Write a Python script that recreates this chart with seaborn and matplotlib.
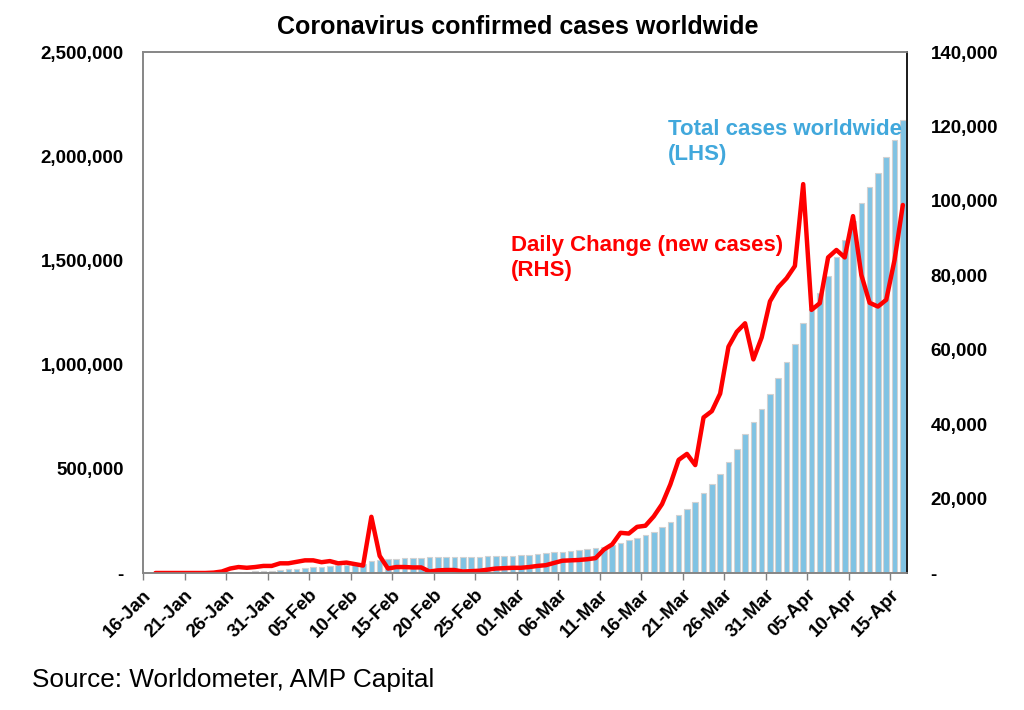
import numpy as np
import pandas as pd
import matplotlib
matplotlib.use('Agg')
import matplotlib.pyplot as plt
import seaborn as sns
from matplotlib.ticker import FuncFormatter, MultipleLocator, FixedLocator, NullFormatter

# daily categories, 16-Jan to 16-Apr 2020
dates = pd.date_range('2020-01-16', '2020-04-16', freq='D')

# total confirmed cases worldwide (LHS)
total_cases = [
    45, 62, 121, 198, 291, 440, 571, 830, 1287, 1975, 2744, 4515,
    5974, 7711, 9692, 11791, 14380, 17205, 20438, 24324, 28018, 31161,
    34546, 37198, 40171, 42638, 44653, 59000, 63850, 66492, 68500, 70548,
    72436, 74185, 74576, 75303, 76200, 76767, 77245, 77751, 78485, 79300,
    80400, 81700, 83200, 85000, 87000, 89600, 94500, 98500, 102000, 106000,
    110000, 114000, 119000, 127000, 135000, 143000, 157000, 170000, 184000,
    199000, 221000, 246000, 277000, 308000, 340000, 383000, 425000, 476000,
    535000, 597000, 665000, 723000, 788000, 860000, 935000, 1014000,
    1099000, 1201000, 1268000, 1344000, 1427000, 1514000, 1598000, 1690000,
    1774000, 1851000, 1921000, 1994000, 2078000, 2173000,
]

# daily change in new cases (RHS); no value on the first day
daily_change = [
    np.nan, 0, 0, 0, 0, 0, 0, 0, 100, 400, 1200, 1600,
    1400, 1600, 1900, 1900, 2600, 2600, 3000, 3400, 3400, 2900,
    3200, 2600, 2800, 2400, 2000, 15100, 4600, 1200, 1600, 1600,
    1500, 1500, 400, 700, 800, 800, 400, 500, 600, 900,
    1200, 1300, 1400, 1400, 1600, 1900, 2100, 2700, 3300, 3400,
    3500, 3700, 4000, 6300, 7700, 10800, 10600, 12400, 12700,
    15200, 18500, 23800, 30400, 32000, 29000, 41800, 43500, 48200,
    60800, 64800, 67100, 57400, 63300, 73000, 76800, 79200,
    82500, 104500, 70700, 72500, 84800, 86800, 84800, 95900,
    80100, 72600, 71600, 73400, 84100, 98900,
]

tick_labels = ['16-Jan', '21-Jan', '26-Jan', '31-Jan', '05-Feb', '10-Feb',
               '15-Feb', '20-Feb', '25-Feb', '01-Mar', '06-Mar', '11-Mar',
               '16-Mar', '21-Mar', '26-Mar', '31-Mar', '05-Apr', '10-Apr',
               '15-Apr']

df = pd.DataFrame({'day': np.arange(len(dates)), 'date': dates,
                   'total': total_cases, 'daily': daily_change})

sns.set_style('white')
plt.rcParams['font.family'] = ['Liberation Sans', 'DejaVu Sans']
plt.rcParams['text.color'] = 'black'

BAR_BLUE = '#80C3E3'
TEXT_BLUE = '#41A8DC'

fig = plt.figure(figsize=(10.24, 7.1), dpi=100)
ax = fig.add_axes([143 / 1024, 1 - 573 / 710, 764 / 1024, 521 / 710])

sns.barplot(data=df, x='day', y='total', native_scale=True, ax=ax,
            color=BAR_BLUE, saturation=1, width=0.68,
            edgecolor='#D2D2D2', linewidth=0.8)

ax2 = ax.twinx()
sns.lineplot(data=df.dropna(), x='day', y='daily', ax=ax2,
             color='#FF0000', lw=3.2)

ax.set_xlim(-0.5, len(dates) - 0.5)
ax.set_ylim(0, 2_500_000)
ax2.set_ylim(0, 140_000)
ax.yaxis.set_major_locator(MultipleLocator(500_000))
ax2.yaxis.set_major_locator(MultipleLocator(20_000))

fmt = FuncFormatter(lambda v, p: '-' if v == 0 else f'{v:,.0f}')
ax.yaxis.set_major_formatter(fmt)
ax2.yaxis.set_major_formatter(fmt)

# tick marks sit on the day boundaries (minor), the labels a touch to the right (major)
tick_pos = np.arange(0, len(dates), 5) - 0.5
ax.xaxis.set_minor_locator(FixedLocator(tick_pos))
ax.xaxis.set_minor_formatter(NullFormatter())
ax.set_xticks(tick_pos + 0.72)
ax.set_xticklabels(tick_labels, rotation=45, ha='right', va='center',
                   rotation_mode='anchor', fontsize=13.5, fontweight='bold')
ax.tick_params(axis='x', which='major', length=0, pad=14, labelcolor='black')
ax.tick_params(axis='x', which='minor', direction='out', length=5, width=1,
               color='#808080', bottom=True)
ax.tick_params(axis='y', length=0, pad=14, labelsize=13.5, labelcolor='black')
ax2.tick_params(axis='y', length=0, pad=17, labelsize=13.5, labelcolor='black')
for lab in ax.get_yticklabels() + ax2.get_yticklabels():
    lab.set_fontweight('bold')

ax.set_xlabel('')
ax.set_ylabel('')
ax2.set_ylabel('')
ax.grid(False)
ax2.grid(False)

for a in (ax, ax2):
    for side in ('left', 'bottom', 'top'):
        a.spines[side].set_color('#868686')
        a.spines[side].set_linewidth(1.2)
    a.spines['right'].set_color('#202020')
    a.spines['right'].set_linewidth(1.4)

fig.text(518 / 1024, 1 - 27 / 710, 'Coronavirus confirmed cases worldwide',
         ha='center', va='center', fontsize=18, fontweight='bold', color='black')
fig.text(668 / 1024, 1 - 142 / 710, 'Total cases worldwide\n(LHS)',
         ha='left', va='center', fontsize=16, fontweight='bold',
         color=TEXT_BLUE, linespacing=1.2)
fig.text(511 / 1024, 1 - 258 / 710, 'Daily Change (new cases)\n(RHS)',
         ha='left', va='center', fontsize=16, fontweight='bold',
         color='#FF0000', linespacing=1.2)
fig.text(32 / 1024, 1 - 680 / 710, 'Source: Worldometer, AMP Capital',
         ha='left', va='center', fontsize=18.8, color='black')

fig.savefig('out.png', dpi=100)
